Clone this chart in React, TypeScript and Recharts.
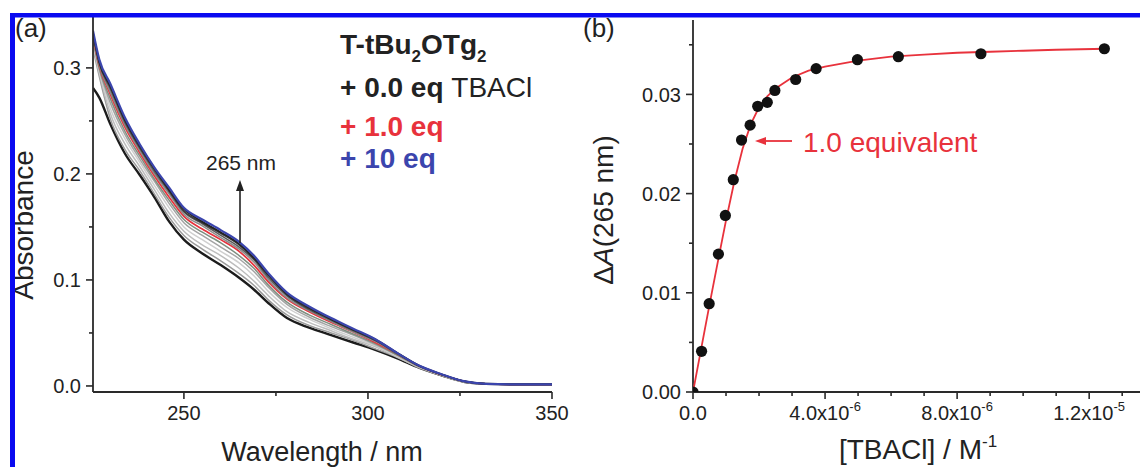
import React from "react";
import { LineChart, Line, XAxis, YAxis, ScatterChart, Scatter } from "recharts";

const FONT = "'Liberation Sans', Arial, Helvetica, sans-serif";
const INK = "#222";
const AXIS = "#2a2a2a";
const RED = "#e8323c";
const BLUE = "#3b45ad";
const FRAME = "#0a0af0";

// ---- panel (a): titration spectra, absorbance vs wavelength (nm)
const wavelengths = [225.3, 227, 230, 234, 238, 242, 246, 250, 255, 260, 265, 269, 273, 278, 284, 290, 296, 302, 308, 314, 320, 326, 332, 340, 350];

const abs0eq = [0.281, 0.272, 0.247, 0.219, 0.199, 0.178, 0.155, 0.138, 0.125, 0.114, 0.102, 0.091, 0.078, 0.064, 0.055, 0.048, 0.041, 0.034, 0.026, 0.017, 0.010, 0.004, 0.002, 0.0015, 0.0015];
const absStep1 = [0.318, 0.292, 0.252, 0.223, 0.203, 0.181, 0.159, 0.142, 0.129, 0.118, 0.106, 0.095, 0.081, 0.067, 0.057, 0.050, 0.043, 0.035, 0.027, 0.017, 0.010, 0.004, 0.002, 0.0015, 0.0015];
const absStep2 = [0.321, 0.295, 0.257, 0.228, 0.207, 0.185, 0.163, 0.146, 0.133, 0.123, 0.111, 0.099, 0.085, 0.070, 0.060, 0.052, 0.044, 0.037, 0.027, 0.0175, 0.010, 0.004, 0.002, 0.0015, 0.0015];
const absStep3 = [0.323, 0.297, 0.262, 0.233, 0.211, 0.189, 0.168, 0.150, 0.138, 0.127, 0.116, 0.104, 0.089, 0.074, 0.063, 0.054, 0.046, 0.038, 0.028, 0.018, 0.0104, 0.0042, 0.002, 0.0015, 0.0015];
const absStep4 = [0.325, 0.299, 0.267, 0.237, 0.214, 0.193, 0.172, 0.154, 0.142, 0.131, 0.120, 0.108, 0.093, 0.077, 0.065, 0.056, 0.048, 0.039, 0.029, 0.018, 0.0105, 0.0043, 0.002, 0.0015, 0.0015];
const absStep5 = [0.327, 0.300, 0.271, 0.240, 0.217, 0.195, 0.175, 0.157, 0.145, 0.135, 0.123, 0.111, 0.095, 0.079, 0.067, 0.058, 0.049, 0.040, 0.029, 0.0182, 0.0106, 0.0043, 0.002, 0.0015, 0.0015];
const abs1eq = [0.329, 0.302, 0.275, 0.244, 0.220, 0.198, 0.178, 0.160, 0.148, 0.138, 0.127, 0.114, 0.098, 0.082, 0.070, 0.060, 0.051, 0.041, 0.030, 0.0185, 0.0107, 0.0044, 0.002, 0.0015, 0.0015];
const absStep7 = [0.330, 0.303, 0.277, 0.246, 0.222, 0.200, 0.181, 0.162, 0.151, 0.140, 0.129, 0.117, 0.100, 0.083, 0.071, 0.061, 0.051, 0.042, 0.030, 0.0186, 0.0108, 0.0044, 0.002, 0.0015, 0.0015];
const absStep8 = [0.331, 0.304, 0.280, 0.248, 0.224, 0.202, 0.183, 0.164, 0.153, 0.142, 0.131, 0.119, 0.102, 0.085, 0.072, 0.062, 0.052, 0.043, 0.030, 0.0187, 0.0109, 0.0044, 0.002, 0.0015, 0.0015];
const absStep9 = [0.332, 0.305, 0.282, 0.250, 0.225, 0.204, 0.184, 0.165, 0.154, 0.144, 0.133, 0.120, 0.104, 0.086, 0.073, 0.063, 0.053, 0.043, 0.031, 0.0188, 0.0109, 0.0045, 0.002, 0.0015, 0.0015];
const absStep10 = [0.333, 0.306, 0.283, 0.251, 0.227, 0.205, 0.185, 0.167, 0.155, 0.145, 0.134, 0.121, 0.105, 0.087, 0.074, 0.063, 0.053, 0.044, 0.031, 0.0189, 0.011, 0.0045, 0.002, 0.0015, 0.0015];
const abs10eq = [0.335, 0.308, 0.285, 0.253, 0.228, 0.206, 0.187, 0.168, 0.157, 0.147, 0.136, 0.123, 0.106, 0.088, 0.075, 0.064, 0.054, 0.044, 0.031, 0.019, 0.011, 0.0045, 0.002, 0.0015, 0.0015];

const spectra = [
  { key: "eq0", values: abs0eq, color: "#1c1c1c", width: 2.4 },
  { key: "s1", values: absStep1, color: "#9c9c9c", width: 1.5 },
  { key: "s2", values: absStep2, color: "#bdbdbd", width: 1.5 },
  { key: "s3", values: absStep3, color: "#cfcfcf", width: 1.5 },
  { key: "s4", values: absStep4, color: "#a4a4a4", width: 1.5 },
  { key: "s5", values: absStep5, color: "#7f8f80", width: 1.5 },
  { key: "eq1", values: abs1eq, color: RED, width: 1.7 },
  { key: "s7", values: absStep7, color: "#8c8c8c", width: 1.5 },
  { key: "s8", values: absStep8, color: "#5a5a5a", width: 1.5 },
  { key: "s9", values: absStep9, color: "#3a3a3a", width: 1.6 },
  { key: "s10", values: absStep10, color: "#222", width: 1.8 },
  { key: "eq10", values: abs10eq, color: BLUE, width: 2.2 },
];

const spectraRows = wavelengths.map((wl, i) => {
  const row: Record<string, number> = { wl };
  spectra.forEach((s) => (row[s.key] = s.values[i]));
  return row;
});

const xTicksA = [250, 275, 300, 325, 350];
const xLabelsA = ["250", "", "300", "", "350"];
const yTicksA = [0, 0.05, 0.1, 0.15, 0.2, 0.25, 0.3];
const yLabelsA = ["0.0", "", "0.1", "", "0.2", "", "0.3"];

// ---- panel (b): ΔA at 265 nm vs [TBACl] (µM)
const tbaclConc = [0, 0.26, 0.49, 0.77, 0.98, 1.22, 1.47, 1.73, 1.96, 2.25, 2.48, 3.11, 3.73, 4.98, 6.22, 8.72, 12.46];
const deltaA265 = [0, 0.0041, 0.0089, 0.0139, 0.0178, 0.0214, 0.0254, 0.0269, 0.0288, 0.0292, 0.0304, 0.0315, 0.0326, 0.0335, 0.0338, 0.0341, 0.0346];

const fitConc = [0, 0.25, 0.5, 0.75, 1.0, 1.25, 1.5, 1.75, 2.0, 2.25, 2.5, 3.0, 3.5, 4.0, 5.0, 6.0, 7.0, 8.0, 9.0, 10, 11, 12.5];
const fitDeltaA = [0, 0.0044, 0.0088, 0.0131, 0.0173, 0.0212, 0.0245, 0.027, 0.0287, 0.0298, 0.0306, 0.0317, 0.0324, 0.0328, 0.0334, 0.0338, 0.034, 0.0342, 0.0343, 0.0344, 0.0345, 0.0346];

const pointRows = tbaclConc.map((x, i) => ({ x, y: deltaA265[i] }));
const fitRows = fitConc.map((x, i) => ({ x, y: fitDeltaA[i] }));

const xTicksB = [0, 1, 2, 3, 4, 5, 6, 7, 8, 9, 10, 11, 12, 13];
const xLabelsB = ["0.0", "", "", "", "4.0x10", "", "", "", "8.0x10", "", "", "", "1.2x10", ""];
const xExpB = ["", "", "", "", "-6", "", "", "", "-6", "", "", "", "-5", ""];
const yTicksB = [0, 0.005, 0.01, 0.015, 0.02, 0.025, 0.03, 0.035];
const yLabelsB = ["0.00", "", "0.01", "", "0.02", "", "0.03", ""];

const pickIndex = (ticks: number[], v: number) => {
  let best = 0;
  ticks.forEach((t, i) => {
    if (Math.abs(t - v) < Math.abs(ticks[best] - v)) best = i;
  });
  return best;
};

function LeftTick(props: any) {
  const { x = 0, y = 0, payload, ticks, labels } = props;
  const label = labels[pickIndex(ticks, payload.value)];
  const major = label !== "";
  return (
    <g>
      <line x1={x} x2={x - (major ? 7 : 4)} y1={y} y2={y} stroke={AXIS} strokeWidth={1.6} />
      {major && (
        <text x={x - 12} y={y} dy="0.36em" textAnchor="end" fontSize={20} fill={INK} fontFamily={FONT}>
          {label}
        </text>
      )}
    </g>
  );
}

function BottomTick(props: any) {
  const { x = 0, y = 0, payload, ticks, labels, exps } = props;
  const i = pickIndex(ticks, payload.value);
  const label = labels[i];
  const major = label !== "";
  const exp = exps ? exps[i] : "";
  return (
    <g>
      <line x1={x} x2={x} y1={y} y2={y + (major ? 7 : 4)} stroke={AXIS} strokeWidth={1.6} />
      {major && (
        <text x={x} y={y + 28} textAnchor="middle" fontSize={20} fill={INK} fontFamily={FONT}>
          {label}
          {exp && (
            <tspan dy={-9} fontSize={13}>
              {exp}
            </tspan>
          )}
        </text>
      )}
    </g>
  );
}

function SpectraPanel() {
  return (
    <LineChart width={600} height={467} data={spectraRows} margin={{ top: 17, right: 48, bottom: 35, left: 33 }}>
      <XAxis
        type="number"
        dataKey="wl"
        domain={[225.3, 350]}
        ticks={xTicksA}
        interval={0}
        height={40}
        tickSize={0}
        tickMargin={0}
        axisLine={{ stroke: AXIS, strokeWidth: 1.8 }}
        tick={(p: any) => <BottomTick {...p} ticks={xTicksA} labels={xLabelsA} />}
        allowDataOverflow
      />
      <YAxis
        type="number"
        domain={[-0.0057, 0.348]}
        ticks={yTicksA}
        interval={0}
        width={60}
        tickSize={0}
        tickMargin={0}
        axisLine={{ stroke: AXIS, strokeWidth: 1.8 }}
        tick={(p: any) => <LeftTick {...p} ticks={yTicksA} labels={yLabelsA} />}
        allowDataOverflow
      />
      {spectra.map((s) => (
        <Line
          key={s.key}
          dataKey={s.key}
          type="monotone"
          stroke={s.color}
          strokeWidth={s.width}
          dot={false}
          isAnimationActive={false}
        />
      ))}
    </LineChart>
  );
}

function BindingPanel() {
  return (
    <ScatterChart width={600} height={467} margin={{ top: 20, right: 18, bottom: 35, left: 73 }}>
      <XAxis
        type="number"
        dataKey="x"
        domain={[0, 13.6]}
        ticks={xTicksB}
        interval={0}
        height={40}
        tickSize={0}
        tickMargin={0}
        axisLine={{ stroke: AXIS, strokeWidth: 1.8 }}
        tick={(p: any) => <BottomTick {...p} ticks={xTicksB} labels={xLabelsB} exps={xExpB} />}
        allowDataOverflow
      />
      <YAxis
        type="number"
        dataKey="y"
        domain={[0, 0.0375]}
        ticks={yTicksB}
        interval={0}
        width={60}
        tickSize={0}
        tickMargin={0}
        axisLine={{ stroke: AXIS, strokeWidth: 1.8 }}
        tick={(p: any) => <LeftTick {...p} ticks={yTicksB} labels={yLabelsB} />}
        allowDataOverflow
      />
      <Scatter
        data={fitRows}
        line={{ stroke: RED, strokeWidth: 1.8 }}
        lineType="joint"
        shape={() => <g />}
        isAnimationActive={false}
      />
      <Scatter
        data={pointRows}
        shape={(p: any) => <circle cx={p.cx} cy={p.cy} r={5.6} fill="#111" />}
        isAnimationActive={false}
      />
    </ScatterChart>
  );
}

function Overlay() {
  const t = { fontFamily: FONT, fill: INK };
  return (
    <svg width={1140} height={467} style={{ position: "absolute", left: 0, top: 0, pointerEvents: "none" }}>
      <text x={15} y={37} fontSize={26} {...t}>(a)</text>
      <text x={583} y={37} fontSize={26} {...t}>(b)</text>

      <text transform="translate(33,225) rotate(-90)" textAnchor="middle" fontSize={28} {...t}>Absorbance</text>
      <text x={322} y={461} textAnchor="middle" fontSize={27} {...t}>Wavelength / nm</text>

      <text transform="translate(613,210) rotate(-90)" textAnchor="middle" fontSize={28} {...t}>
        Δ<tspan fontStyle="italic">A</tspan>(265 nm)
      </text>
      <text x={918} y={459} textAnchor="middle" fontSize={28} {...t}>
        [TBACl] / M<tspan dy={-12} fontSize={17}>-1</tspan>
      </text>

      <text x={340} y={54} fontSize={28} fontWeight="bold" {...t}>
        T-tBu<tspan dy={8} fontSize={17}>2</tspan>
        <tspan dy={-8}>OTg</tspan>
        <tspan dy={8} fontSize={17}>2</tspan>
      </text>
      <text x={340} y={97} fontSize={28} {...t}>
        <tspan fontWeight="bold">+ 0.0 eq </tspan>TBACl
      </text>
      <text x={340} y={136} fontSize={28} fontWeight="bold" fontFamily={FONT} fill={RED}>+ 1.0 eq</text>
      <text x={340} y={168} fontSize={28} fontWeight="bold" fontFamily={FONT} fill={BLUE}>+ 10 eq</text>

      <text x={241} y={170} textAnchor="middle" fontSize={21} {...t}>265 nm</text>
      <line x1={240} x2={240} y1={243} y2={188} stroke={INK} strokeWidth={1.6} />
      <polygon points="240,180 236,191 244,191" fill={INK} />

      <line x1={792} x2={762} y1={141} y2={141} stroke={RED} strokeWidth={1.8} />
      <polygon points="755,141 766,137 766,145" fill={RED} />
      <text x={803} y={152} fontSize={28} fontFamily={FONT} fill={RED}>1.0 equivalent</text>

      <rect x={10} y={13} width={1140} height={4.5} fill={FRAME} />
      <rect x={10} y={13} width={5} height={460} fill={FRAME} />
    </svg>
  );
}

export default function App() {
  return (
    <div style={{ position: "absolute", left: 0, top: 0, width: 1140, height: 467, overflow: "hidden", background: "#fff" }}>
      <div style={{ position: "absolute", left: 0, top: 0 }}>
        <SpectraPanel />
      </div>
      <div style={{ position: "absolute", left: 560, top: 0 }}>
        <BindingPanel />
      </div>
      <Overlay />
    </div>
  );
}
